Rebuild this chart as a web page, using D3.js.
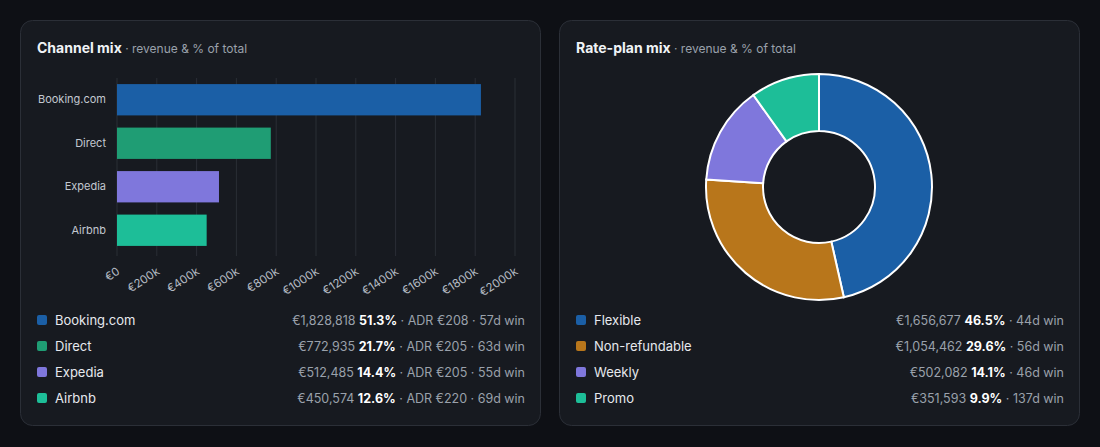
<!DOCTYPE html>
<html>
<head>
<meta charset="utf-8">
<script src="https://cdn.jsdelivr.net/npm/d3@7"></script>
<style>
  html, body { margin: 0; padding: 0; background: #0e1015; }
  body { width: 1100px; height: 447px; overflow: hidden; font-family: Inter, "Noto Sans", sans-serif; }
</style>
</head>
<body>
<svg id="chart" width="1100" height="447"></svg>
<script>
// channel mix
const channels = ["Booking.com", "Direct", "Expedia", "Airbnb"];
const channelRevenue = [1828818, 772935, 512485, 450574];
const channelShare = [51.3, 21.7, 14.4, 12.6];
const channelAdr = [208, 205, 205, 220];
const channelWindow = [57, 63, 55, 69];
const channelColors = ["#1b5fa6", "#1f9d74", "#7f77dc", "#1dbe98"];
const xTicks = [0, 200000, 400000, 600000, 800000, 1000000, 1200000, 1400000, 1600000, 1800000, 2000000];

// rate-plan mix
const plans = ["Flexible", "Non-refundable", "Weekly", "Promo"];
const planRevenue = [1656677, 1054462, 502082, 351593];
const planShare = [46.5, 29.6, 14.1, 9.9];
const planWindow = [44, 56, 46, 137];
const planColors = ["#1b5fa6", "#b8761b", "#7f77dc", "#1dbe98"];

const svg = d3.select("#chart");
const fmt = d3.format(",");

function card(x, title) {
    const g = svg.append("g").attr("transform", `translate(${x},20)`);
    g.append("rect")
        .attr("x", 0.5).attr("y", 0.5)
        .attr("width", 520).attr("height", 405)
        .attr("rx", 12)
        .attr("fill", "#171a20")
        .attr("stroke", "#2b2f37");
    const t = g.append("text").attr("x", 17).attr("y", 33);
    t.append("tspan")
        .attr("fill", "#f0f3f6")
        .style("font-size", "14px")
        .style("font-weight", "700")
        .text(title);
    t.append("tspan")
        .attr("fill", "#9aa1ab")
        .style("font-size", "12px")
        .text(" · revenue & % of total");
    return g;
}

function legend(g, names, colors, rows) {
    names.forEach((name, i) => {
        const y = 300 + i * 26;
        g.append("rect")
            .attr("x", 17).attr("y", y - 5)
            .attr("width", 10).attr("height", 10)
            .attr("rx", 2)
            .attr("fill", colors[i]);
        g.append("text")
            .attr("x", 35).attr("y", y)
            .attr("dy", "0.35em")
            .attr("fill", "#e6e9ee")
            .style("font-size", "13px")
            .text(name);
        const t = g.append("text")
            .attr("x", 505).attr("y", y + 1)
            .attr("dy", "0.35em")
            .attr("text-anchor", "end")
            .style("font-size", "12.5px");
        rows[i].forEach(part => {
            t.append("tspan")
                .attr("fill", part.bold ? "#ffffff" : "#9aa1ab")
                .style("font-weight", part.bold ? "700" : "400")
                .text(part.text);
        });
    });
}

// ---- left card: bar chart ----
const left = card(20, "Channel mix");

const x = d3.scaleLinear().domain([0, 2000000]).range([97, 495]);
const y = d3.scaleBand().domain(channels).range([58, 232]).paddingInner(0.28).paddingOuter(0.14);

left.append("g")
    .selectAll("line")
    .data(xTicks)
    .join("line")
    .attr("x1", d => x(d)).attr("x2", d => x(d))
    .attr("y1", 58).attr("y2", 236)
    .attr("stroke", "#2a2e35")
    .attr("stroke-width", 1);

left.append("g")
    .selectAll("rect")
    .data(channels)
    .join("rect")
    .attr("x", x(0))
    .attr("y", d => y(d))
    .attr("width", (d, i) => x(channelRevenue[i]) - x(0))
    .attr("height", y.bandwidth())
    .attr("fill", (d, i) => channelColors[i]);

const xAxis = left.append("g")
    .attr("transform", "translate(0,236)")
    .call(d3.axisBottom(x).tickValues(xTicks).tickSize(0)
        .tickFormat(d => d === 0 ? "€0" : `€${d / 1000}k`));
xAxis.select(".domain").remove();
xAxis.selectAll("text")
    .attr("fill", "#b4bac3")
    .style("font-size", "11.5px")
    .style("font-family", "Inter, sans-serif")
    .attr("text-anchor", "end")
    .attr("x", 0).attr("y", 0)
    .attr("dy", "0.35em")
    .attr("transform", "translate(1,14) rotate(-33)");

const yAxis = left.append("g")
    .attr("transform", `translate(${x(0) - 6},0)`)
    .call(d3.axisLeft(y).tickSize(0).tickPadding(5));
yAxis.select(".domain").remove();
yAxis.selectAll("text")
    .attr("fill", "#c3c8d0")
    .style("font-size", "11px")
    .style("font-family", "Inter, sans-serif");

legend(left, channels, channelColors, channels.map((c, i) => [
    { text: `€${fmt(channelRevenue[i])} ` },
    { text: `${channelShare[i].toFixed(1)}%`, bold: true },
    { text: ` · ADR €${channelAdr[i]} · ${channelWindow[i]}d win` }
]));

// ---- right card: donut ----
const right = card(559, "Rate-plan mix");

const pie = d3.pie().sort(null).value(d => d);
const arc = d3.arc().innerRadius(56).outerRadius(113);

right.append("g")
    .attr("transform", "translate(260,167)")
    .selectAll("path")
    .data(pie(planRevenue))
    .join("path")
    .attr("d", arc)
    .attr("fill", (d, i) => planColors[i])
    .attr("stroke", "#ffffff")
    .attr("stroke-width", 2);

legend(right, plans, planColors, plans.map((p, i) => [
    { text: `€${fmt(planRevenue[i])} ` },
    { text: `${planShare[i].toFixed(1)}%`, bold: true },
    { text: ` · ${planWindow[i]}d win` }
]));
</script>
</body>
</html>
